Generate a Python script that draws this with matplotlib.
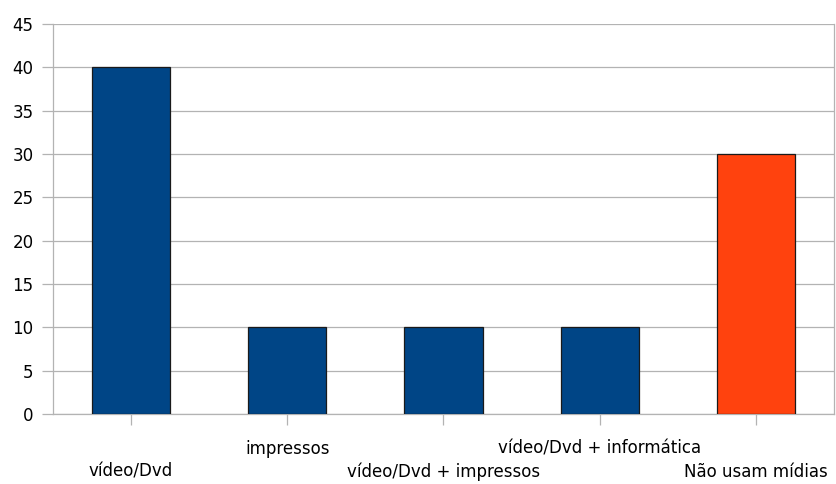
import numpy as np
import matplotlib.pyplot as plt

categories = ["vídeo/Dvd", "impressos", "vídeo/Dvd + impressos",
              "vídeo/Dvd + informática", "Não usam mídias"]
values = [40, 10, 10, 10, 30]
colors = ["#004586", "#004586", "#004586", "#004586", "#ff420e"]
yticks = np.arange(0, 50, 5)

plt.rcParams['font.family'] = ['DejaVu Sans']
plt.rcParams['font.size'] = 12

fig = plt.figure(figsize=(8.36, 4.84), dpi=100)
ax = fig.add_axes([0.0634, 0.1446, 0.9342, 0.8058])

x = np.arange(len(categories))
ax.bar(x, values, width=0.5, color=colors, edgecolor="#1a1a1a", linewidth=0.9, zorder=3)

ax.set_xlim(-0.5, len(categories) - 0.5)
ax.set_ylim(0, 45)
ax.set_yticks(yticks)
ax.yaxis.grid(True, color="#b3b3b3", linewidth=0.9, zorder=0)

# category labels staggered over two rows
ax.set_xticks(x)
ax.set_xticklabels([])
for i, c in enumerate(categories):
    off = 41.5 if i % 2 == 0 else 25
    ax.annotate(c, xy=(i, 0), xycoords=("data", "axes fraction"),
                xytext=(0, -off), textcoords="offset points",
                ha="center", va="center")

for s in ["left", "bottom", "right"]:
    ax.spines[s].set_color("#b3b3b3")
    ax.spines[s].set_linewidth(0.9)
ax.spines["top"].set_visible(False)
ax.tick_params(axis="both", color="#b3b3b3", length=8, width=0.9)
ax.tick_params(axis="y", pad=6)

fig.savefig("out.png", dpi=100)
